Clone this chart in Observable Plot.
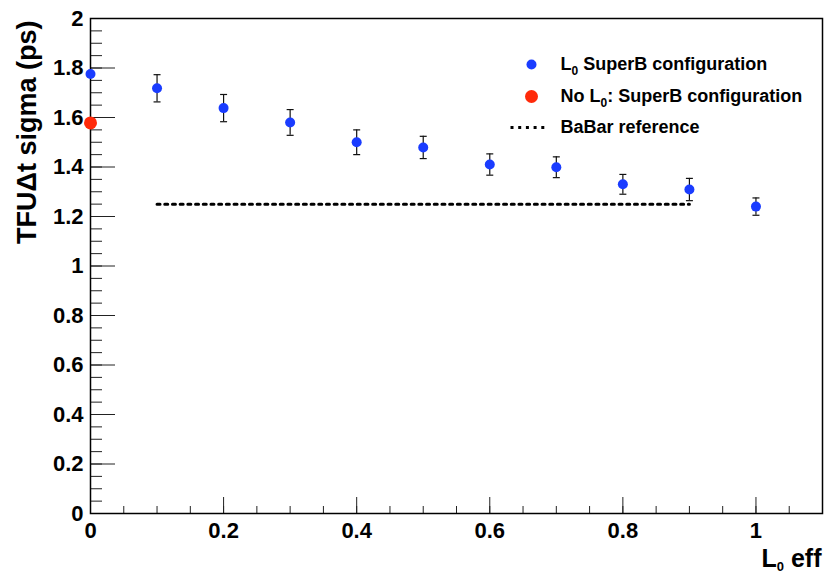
<!DOCTYPE html>
<html><head><meta charset="utf-8">
<script src="https://cdn.jsdelivr.net/npm/d3@7"></script>
<script src="https://cdn.jsdelivr.net/npm/@observablehq/plot@0.6"></script>
<style>body{margin:0;background:#fff}</style>
</head><body><div id="chart"></div>
<script>
// ---- data ----
const effL0   = [0, 0.1, 0.2, 0.3, 0.4, 0.5, 0.6, 0.7, 0.8, 0.9, 1.0];
const sigmaL0 = [1.776, 1.718, 1.638, 1.580, 1.500, 1.479, 1.410, 1.399, 1.330, 1.309, 1.240];
const errL0   = [0, 0.055, 0.055, 0.052, 0.050, 0.045, 0.043, 0.042, 0.040, 0.045, 0.035];
const effNoL0   = [0];
const sigmaNoL0 = [1.578];
const babarEff   = [0.1, 0.9];
const babarSigma = [1.25, 1.25];

const yTicks = [0, 0.2, 0.4, 0.6, 0.8, 1, 1.2, 1.4, 1.6, 1.8, 2];
const yTickLabels = ["0", "0.2", "0.4", "0.6", "0.8", "1", "1.2", "1.4", "1.6", "1.8", "2"];
const xTicks = [0, 0.2, 0.4, 0.6, 0.8, 1];
const xTickLabels = ["0", "0.2", "0.4", "0.6", "0.8", "1"];
const yMinorTicks = d3.range(0, 41).map(i => +(i * 0.05).toFixed(2));
const xMinorTicks = d3.range(0, 23).map(i => +(i * 0.05).toFixed(2));

const legendLabels = ["L0 SuperB configuration", "No L0: SuperB configuration", "BaBar reference"];
const yTitle = "TFUΔt sigma (ps)";
const xTitle = "L0 eff";

// ---- tables for the library ----
const pts = effL0.map((e, i) => ({eff: e, sigma: sigmaL0[i], err: errL0[i]}));
const bars = pts.filter(d => d.err > 0);
const noL0 = effNoL0.map((e, i) => ({eff: e, sigma: sigmaNoL0[i]}));
const babar = babarEff.map((e, i) => ({eff: e, sigma: babarSigma[i]}));

const BLUE = "#1a3cff", RED = "#ff2a0a";
const capSymbol = {draw(ctx) { ctx.moveTo(-3.5, 0); ctx.lineTo(3.5, 0); }};
const dashSymbol = {draw(ctx) { ctx.moveTo(-18.5, 0); ctx.lineTo(18.5, 0); }};
const FONT = "'Liberation Sans', Arial, Helvetica, sans-serif";

const chart = Plot.plot({
  width: 825, height: 573,
  marginLeft: 90, marginRight: 3, marginTop: 18, marginBottom: 60,
  style: {fontFamily: FONT, fontWeight: "bold", background: "#fff", color: "#000"},
  x: {domain: [0, 1.1]},
  y: {domain: [0, 2]},
  marks: [
    // ticks inside the frame
    Plot.axisY({ticks: yMinorTicks, tickSize: -12, tickFormat: () => "", label: null, stroke: "#222"}),
    Plot.axisY({ticks: yTicks, tickSize: -25, tickFormat: () => "", label: null, stroke: "#222"}),
    Plot.axisX({ticks: xMinorTicks, tickSize: -7, tickFormat: () => "", label: null, stroke: "#222"}),
    Plot.axisX({ticks: xTicks, tickSize: -16, tickFormat: () => "", label: null, stroke: "#222"}),
    // labels
    Plot.axisY({ticks: yTicks, tickSize: 0, tickPadding: 7, label: null,
      tickFormat: d => yTickLabels[yTicks.indexOf(d)], fontSize: 22, fontWeight: "bold", fill: "#000"}),
    Plot.axisX({ticks: xTicks, tickSize: 0, tickPadding: 9, label: null,
      tickFormat: d => xTickLabels[xTicks.indexOf(d)], fontSize: 22, fontWeight: "bold", fill: "#000"}),
    Plot.frame({stroke: "#000", strokeWidth: 1.5}),
    // BaBar reference
    Plot.line(babar, {x: "eff", y: "sigma", stroke: "#000", strokeWidth: 3, strokeDasharray: "3,4.7"}),
    // error bars
    Plot.ruleX(bars, {x: "eff", y1: d => d.sigma - d.err, y2: d => d.sigma + d.err, stroke: "#111", strokeWidth: 1.2}),
    Plot.dot(bars, {x: "eff", y: d => d.sigma + d.err, symbol: capSymbol, stroke: "#111", strokeWidth: 1.2, fill: "none"}),
    Plot.dot(bars, {x: "eff", y: d => d.sigma - d.err, symbol: capSymbol, stroke: "#111", strokeWidth: 1.2, fill: "none"}),
    // points
    Plot.dot(pts, {x: "eff", y: "sigma", r: 5, fill: BLUE, stroke: "none"}),
    Plot.dot(noL0, {x: "eff", y: "sigma", r: 6.5, fill: RED, stroke: "none"}),
    // legend
    Plot.dot([0], {frameAnchor: "top-left", dx: 441, dy: 46, r: 5, fill: BLUE, stroke: "none"}),
    Plot.dot([0], {frameAnchor: "top-left", dx: 441, dy: 78, r: 6.5, fill: RED, stroke: "none"}),
    Plot.dot([0], {frameAnchor: "top-left", dx: 438.5, dy: 109, symbol: dashSymbol, stroke: "#000", strokeWidth: 3, strokeDasharray: "3,4.7", fill: "none"}),
    ...legendLabels.map((t, i) => Plot.text([t], {text: d => d, frameAnchor: "top-left", dx: 470, dy: [46, 78, 109][i],
      textAnchor: "start", lineAnchor: "middle", fontSize: 18, fontWeight: "bold", fill: "#000"})),
    // axis titles
    Plot.text([yTitle], {text: d => d, frameAnchor: "top-left", dx: -55, dy: 2, rotate: -90,
      textAnchor: "end", lineAnchor: "bottom", fontSize: 27, fontWeight: "bold", fill: "#000"}),
    Plot.text([xTitle], {text: d => d, frameAnchor: "bottom-right", dx: -1, dy: 53,
      textAnchor: "end", lineAnchor: "bottom", fontSize: 25, fontWeight: "bold", fill: "#000"})
  ]
});
document.getElementById("chart").appendChild(chart);

// subscripts "L0" -> L with subscript 0
d3.select(chart).selectAll("text").each(function() {
  const el = d3.select(this);
  if (this.querySelector("tspan")) return;
  const s = this.textContent;
  const k = s.indexOf("L0");
  if (k < 0) return;
  const big = s === xTitle;
  const subSize = big ? 13 : 12, shift = big ? 4 : 5;
  el.text(null);
  el.append("tspan").text(s.slice(0, k + 1));
  el.append("tspan").attr("font-size", subSize).attr("dy", shift).text("0");
  el.append("tspan").attr("dy", -shift).text(s.slice(k + 2));
});
</script>
</body></html>
